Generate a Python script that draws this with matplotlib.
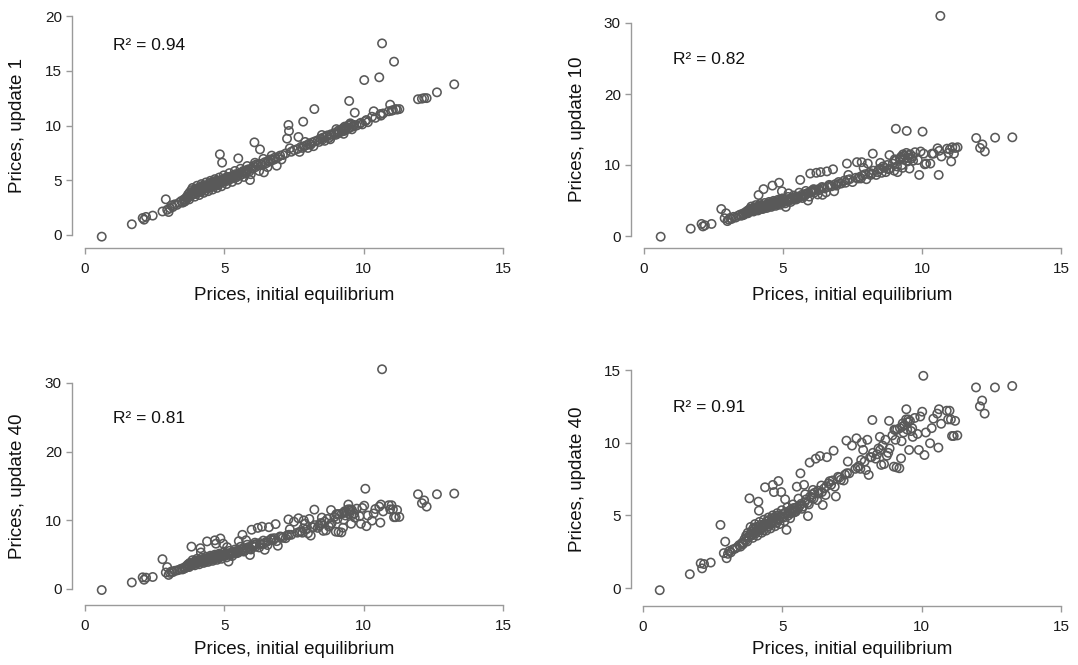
import matplotlib
matplotlib.use('Agg')
import matplotlib.pyplot as plt
import numpy as np

plt.rcParams['font.family'] = ['Liberation Sans', 'DejaVu Sans']

# prices at the initial equilibrium (shared by every panel)
price_init = [
    0.60, 1.68, 2.07, 2.12, 2.19, 2.43, 2.78, 2.90, 2.95, 3.00,
    3.05, 3.10, 3.15, 3.22, 3.30, 3.38, 3.45, 3.50, 3.55, 3.58,
    3.60, 3.64, 3.68, 3.70, 3.72, 3.76, 3.80, 3.82, 3.84, 3.88,
    3.90, 3.92, 3.96, 3.98, 4.00, 4.04, 4.06, 4.08, 4.12, 4.14,
    4.16, 4.20, 4.22, 4.24, 4.28, 4.30, 4.32, 4.36, 4.38, 4.40,
    4.44, 4.46, 4.48, 4.52, 4.54, 4.56, 4.60, 4.62, 4.64, 4.66,
    4.68, 4.70, 4.72, 4.76, 4.78, 4.80, 4.84, 4.86, 4.88, 4.92,
    4.94, 4.96, 5.00, 5.02, 5.05, 5.10, 5.12, 5.15, 5.20, 5.22,
    5.25, 5.30, 5.32, 5.35, 5.40, 5.42, 5.45, 5.50, 5.52, 5.56,
    5.62, 5.65, 5.68, 5.74, 5.78, 5.80, 5.86, 5.90, 5.92, 5.98,
    6.00, 6.05, 6.08, 6.12, 6.15, 6.20, 6.28, 6.30, 6.35, 6.42,
    6.45, 6.50, 6.58, 6.60, 6.66, 6.75, 6.80, 6.84, 6.88, 6.92,
    7.00, 7.10, 7.20, 7.25, 7.30, 7.32, 7.40, 7.50, 7.62, 7.66,
    7.75, 7.80, 7.83, 7.85, 7.95, 8.00, 8.05, 8.10, 8.15, 8.23,
    8.25, 8.35, 8.40, 8.45, 8.51, 8.55, 8.60, 8.65, 8.70, 8.75,
    8.83, 8.85, 8.95, 9.00, 9.05, 9.06, 9.10, 9.12, 9.20, 9.22,
    9.26, 9.30, 9.32, 9.35, 9.38, 9.44, 9.45, 9.48, 9.50, 9.55,
    9.58, 9.62, 9.66, 9.68, 9.75, 9.85, 9.90, 9.95, 10.02, 10.06,
    10.10, 10.15, 10.30, 10.36, 10.42, 10.56, 10.60, 10.62, 10.66, 10.70,
    10.90, 10.95, 11.00, 11.05, 11.09, 11.15, 11.20, 11.28, 11.95, 12.09,
    3.74, 3.86, 3.94, 4.02, 4.10, 4.18, 4.26, 4.34, 4.42, 4.50,
    4.58, 4.66, 4.74, 4.82, 4.90, 4.98, 5.08, 5.18, 5.28, 5.38,
    5.48, 5.58, 5.70, 5.82, 5.95, 6.10, 6.25, 6.40, 6.55, 6.70,
    7.05, 7.35, 7.70, 7.90, 8.20, 8.50, 8.80, 9.02, 9.28, 9.52,
    12.17, 12.26, 12.63, 13.25,
]

price_upd1 = [
    -0.15, 0.98, 1.55, 1.40, 1.65, 1.77, 2.15, 3.26, 2.30, 2.10,
    2.45, 2.70, 2.55, 2.80, 2.75, 2.95, 3.10, 2.95, 3.25, 3.05,
    3.20, 3.45, 3.35, 3.70, 3.55, 3.90, 3.60, 4.10, 3.80, 3.70,
    4.00, 3.75, 4.20, 3.90, 4.05, 3.85, 4.30, 4.00, 4.15, 3.95,
    4.35, 4.10, 4.50, 4.25, 4.20, 4.45, 4.05, 4.40, 4.30, 4.55,
    4.40, 4.70, 4.50, 4.35, 4.80, 4.55, 4.65, 4.45, 4.90, 4.60,
    4.75, 4.55, 4.95, 4.70, 4.85, 4.60, 7.37, 5.00, 4.80, 6.61,
    5.05, 4.85, 5.00, 5.20, 4.90, 5.15, 5.30, 5.05, 5.25, 5.10,
    5.35, 5.20, 5.45, 5.30, 5.55, 5.25, 5.40, 7.00, 5.60, 5.45,
    5.70, 5.55, 5.85, 5.65, 5.90, 5.75, 6.00, 5.80, 5.02, 6.05,
    6.10, 6.30, 8.46, 6.20, 6.45, 6.35, 7.82, 6.50, 6.40, 5.72,
    6.65, 6.55, 6.80, 6.70, 6.90, 6.85, 7.05, 6.95, 6.33, 7.10,
    7.25, 7.30, 7.45, 8.80, 10.05, 9.50, 7.60, 7.75, 7.85, 8.95,
    8.05, 7.95, 10.35, 8.10, 8.20, 7.95, 8.35, 8.25, 8.45, 11.50,
    8.55, 8.65, 8.50, 8.80, 8.70, 8.90, 8.60, 9.00, 9.10, 8.85,
    9.20, 9.05, 9.30, 9.15, 9.40, 9.25, 9.55, 9.35, 9.60, 9.45,
    9.75, 9.50, 9.90, 9.65, 9.85, 9.70, 10.00, 12.24, 9.80, 10.10,
    9.65, 9.90, 10.05, 11.17, 10.00, 10.15, 10.25, 10.10, 14.15, 10.40,
    10.50, 10.30, 10.80, 11.30, 10.70, 14.40, 11.05, 10.90, 17.50, 11.10,
    11.30, 11.90, 11.35, 11.40, 15.83, 11.50, 11.45, 11.50, 12.40, 12.45,
    3.25, 4.30, 3.50, 4.50, 3.65, 4.65, 3.85, 4.80, 4.00, 4.95,
    4.15, 5.10, 4.30, 5.25, 4.45, 5.45, 4.65, 5.65, 4.85, 5.85,
    5.05, 6.05, 5.30, 6.30, 5.55, 6.60, 5.85, 6.95, 6.20, 7.25,
    6.90, 7.92, 7.59, 8.50, 8.11, 9.13, 8.74, 9.67, 9.24, 10.20,
    12.50, 12.50, 13.03, 13.76,
]

price_upd10 = [
    -0.10, 1.03, 1.70, 1.35, 1.50, 1.70, 3.80, 2.50, 3.20, 2.10,
    2.30, 2.55, 2.40, 2.70, 2.60, 2.85, 3.00, 2.85, 3.15, 2.95,
    3.10, 3.30, 3.20, 3.50, 3.40, 3.65, 3.45, 3.85, 3.60, 3.55,
    3.80, 3.60, 4.00, 3.75, 3.90, 3.70, 4.10, 3.85, 5.77, 3.80,
    4.15, 3.95, 4.30, 4.10, 4.05, 6.60, 3.90, 4.25, 4.15, 4.35,
    4.25, 4.55, 4.35, 4.20, 4.65, 4.40, 4.50, 7.10, 4.75, 4.45,
    4.60, 4.40, 4.80, 4.55, 4.70, 4.45, 4.95, 7.50, 4.65, 4.85,
    4.95, 6.30, 4.90, 5.10, 4.80, 4.10, 5.20, 4.95, 6.00, 5.00,
    5.25, 5.10, 5.35, 5.20, 5.45, 5.15, 5.30, 5.50, 5.55, 5.40,
    7.90, 5.55, 5.80, 5.60, 5.90, 5.75, 6.00, 5.00, 6.10, 8.80,
    6.20, 6.40, 6.30, 6.10, 6.50, 8.90, 6.60, 6.45, 9.00, 5.80,
    6.80, 6.70, 9.10, 6.90, 7.20, 7.00, 9.40, 6.30, 7.30, 7.10,
    7.60, 7.40, 7.80, 7.50, 10.20, 7.90, 8.00, 7.60, 8.20, 10.40,
    8.30, 8.10, 10.40, 8.50, 8.70, 8.00, 10.20, 8.90, 8.60, 11.60,
    9.20, 8.60, 9.00, 9.40, 9.50, 8.90, 9.80, 9.60, 9.00, 10.00,
    11.40, 9.50, 10.20, 9.20, 10.60, 15.10, 9.80, 9.00, 10.80, 11.00,
    11.20, 9.60, 11.50, 10.80, 11.30, 11.70, 14.80, 10.50, 11.00, 9.50,
    11.50, 10.90, 11.20, 10.60, 11.80, 10.70, 8.60, 11.90, 14.70, 11.60,
    10.10, 10.20, 10.20, 11.60, 11.60, 12.35, 8.60, 12.00, 31.00, 11.20,
    12.30, 11.70, 12.20, 10.50, 12.50, 11.60, 12.40, 12.50, 13.80, 12.40,
    3.20, 4.15, 3.45, 4.35, 3.60, 4.50, 3.80, 4.65, 3.95, 4.80,
    4.10, 4.95, 4.25, 5.10, 4.40, 5.30, 4.60, 5.50, 4.80, 5.70,
    5.15, 6.10, 5.35, 6.35, 5.55, 6.60, 5.85, 6.90, 6.15, 7.10,
    7.40, 8.60, 8.10, 9.60, 8.80, 10.30, 9.40, 10.80, 10.00, 11.40,
    12.90, 11.90, 13.85, 13.90,
]

price_upd40 = [
    -0.15, 0.95, 1.70, 1.35, 1.65, 1.75, 4.34, 2.40, 3.19, 2.05,
    2.35, 2.55, 2.45, 2.65, 2.70, 2.80, 2.95, 2.85, 3.10, 3.00,
    3.10, 3.35, 3.25, 3.60, 3.45, 3.80, 3.50, 6.17, 3.70, 3.60,
    3.90, 3.65, 4.10, 3.80, 4.00, 3.75, 4.20, 3.90, 4.05, 5.94,
    5.32, 4.00, 4.35, 4.15, 4.10, 4.30, 3.95, 4.30, 6.93, 4.40,
    4.35, 4.60, 4.40, 4.25, 4.70, 4.45, 4.55, 4.40, 4.80, 7.09,
    4.65, 6.60, 4.85, 4.60, 4.75, 4.50, 5.00, 7.36, 4.70, 4.90,
    4.95, 6.60, 4.90, 5.10, 4.85, 6.10, 5.20, 4.00, 5.15, 5.00,
    5.30, 5.15, 5.40, 5.25, 5.50, 5.20, 5.35, 5.55, 6.97, 5.45,
    5.65, 7.89, 5.80, 5.60, 7.10, 5.90, 6.10, 5.85, 4.95, 8.63,
    6.30, 6.20, 6.45, 6.15, 6.55, 8.90, 6.70, 6.50, 9.08, 6.60,
    5.71, 6.85, 7.00, 9.00, 7.20, 7.10, 7.40, 9.45, 6.97, 6.30,
    7.65, 7.45, 7.40, 7.80, 10.14, 7.90, 7.89, 9.80, 8.20, 10.30,
    8.40, 8.20, 8.81, 10.00, 8.70, 8.12, 10.20, 7.78, 9.00, 11.56,
    9.30, 8.90, 9.20, 9.60, 9.50, 8.47, 9.80, 8.53, 10.20, 9.10,
    11.50, 9.60, 10.50, 8.35, 10.87, 10.20, 8.30, 10.90, 8.24, 11.00,
    8.92, 11.10, 11.33, 10.70, 11.20, 11.60, 12.30, 10.90, 11.40, 9.50,
    11.50, 10.80, 11.00, 10.40, 11.70, 10.60, 9.50, 11.80, 12.13, 14.60,
    9.15, 10.70, 9.96, 11.00, 11.65, 12.00, 9.66, 12.30, 32.00, 11.30,
    12.20, 11.60, 12.20, 11.60, 10.46, 10.46, 11.50, 10.50, 13.80, 12.50,
    3.20, 4.20, 3.45, 4.40, 3.60, 4.55, 3.80, 4.70, 3.95, 4.85,
    4.10, 5.00, 4.25, 5.15, 4.40, 5.35, 4.60, 5.55, 4.80, 5.75,
    5.25, 6.15, 5.45, 6.45, 5.75, 6.75, 6.05, 7.05, 6.40, 7.35,
    7.60, 8.70, 8.30, 9.50, 9.00, 10.40, 9.30, 10.90, 10.10, 11.60,
    12.90, 12.00, 13.80, 13.90,
]

r2_labels = ['R\u00b2 = 0.94', 'R\u00b2 = 0.82', 'R\u00b2 = 0.81', 'R\u00b2 = 0.91']
y_labels = ['Prices, update 1', 'Prices, update 10', 'Prices, update 40', 'Prices, update 40']
x_label = 'Prices, initial equilibrium'

W, H = 1078, 665
fig = plt.figure(figsize=(W / 100, H / 100), dpi=100)

axis_grey = '#9a9a9a'
point_grey = '#595959'

x = np.array(price_init)
y40 = np.array(price_upd40)
keep = y40 < 30  # last panel: same run without the big outlier

# box (L, R, T, B), pixel of x=0 and x=15, pixel of y=0 and y=ytop, ytop, yticks
panels = [
    ((72, 515, 8, 248), (85, 503), (235, 16), 20, [0, 5, 10, 15, 20],
     x, np.array(price_upd1), (1.0, 17.35), 296),
    ((631, 1075, 8, 248), (644, 1061), (236, 23), 30, [0, 10, 20, 30],
     x, np.array(price_upd10), (1.05, 24.8), 296),
    ((72, 515, 362, 605), (85, 503), (589, 383), 30, [0, 10, 20, 30],
     x, y40, (1.0, 24.9), 650),
    ((631, 1075, 362, 606), (643, 1061), (588, 370), 15, [0, 5, 10, 15],
     x[keep], y40[keep], (1.07, 12.4), 649),
]

for i, (box, xref, yref, ytop, yticks, px, py, r2pos, xlab_y) in enumerate(panels):
    L, R, T, B = box
    x0, x15 = xref
    y0, yt = yref
    xs = (x15 - x0) / 15.0
    ys = (y0 - yt) / float(ytop)
    ax = fig.add_axes([L / W, 1 - B / H, (R - L) / W, (B - T) / H])
    ax.set_xlim((L - x0) / xs, (R - x0) / xs)
    ax.set_ylim((y0 - B) / ys, (y0 - T) / ys)

    ax.scatter(px, py, s=36, facecolors='none', edgecolors=point_grey,
               linewidths=1.15, clip_on=False, zorder=3)

    for side in ['top', 'right']:
        ax.spines[side].set_visible(False)
    for side in ['left', 'bottom']:
        ax.spines[side].set_color(axis_grey)
        ax.spines[side].set_linewidth(1.0)
    ax.spines['bottom'].set_bounds(0, 15)
    ax.spines['left'].set_bounds(0, ytop)
    ax.set_xticks([0, 5, 10, 15])
    ax.set_yticks(yticks)
    ax.tick_params(axis='x', length=4.3, width=1.0, color=axis_grey,
                   labelsize=11, pad=6, labelcolor='#1a1a1a')
    ax.tick_params(axis='y', length=4.3, width=1.0, color=axis_grey,
                   labelsize=11, pad=3, labelcolor='#1a1a1a')
    ax.patch.set_alpha(0)

    ax.text(r2pos[0], r2pos[1], r2_labels[i], ha='left', va='center',
            fontsize=12.5, color='#111111')

    fig.text(((x0 + x15) / 2) / W, 1 - xlab_y / H, x_label, ha='center',
             va='center', fontsize=13.5, color='#111111')
    fig.text((L - 54) / W, 1 - ((y0 + yt) / 2) / H, y_labels[i], ha='center',
             va='center', rotation=90, fontsize=13.5, color='#111111')

fig.savefig('out.png', dpi=100)
